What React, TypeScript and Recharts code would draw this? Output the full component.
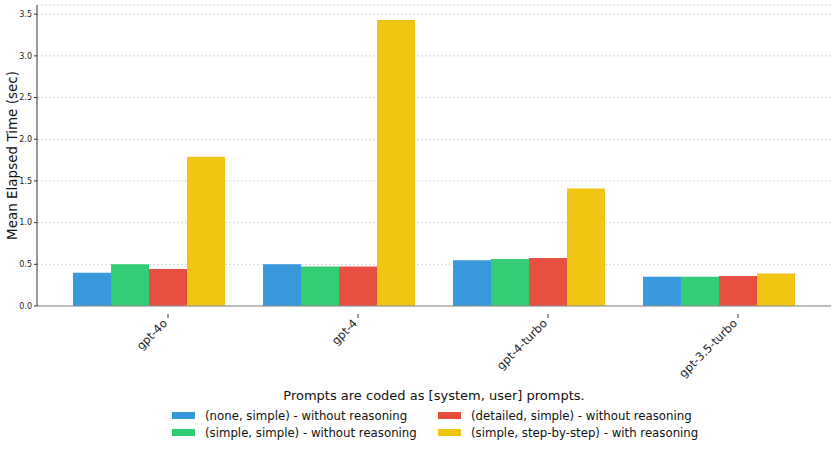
import { BarChart, Bar, XAxis, YAxis, CartesianGrid } from 'recharts';

const models = ['gpt-4o', 'gpt-4', 'gpt-4-turbo', 'gpt-3.5-turbo'];
const noneSimple = [0.4, 0.5, 0.55, 0.35];
const simpleSimple = [0.5, 0.475, 0.565, 0.35];
const detailedSimple = [0.445, 0.475, 0.575, 0.36];
const simpleStep = [1.79, 3.43, 1.41, 0.39];
const yTicks = [0, 0.5, 1, 1.5, 2, 2.5, 3, 3.5];

const series = [
    { key: 'none', label: '(none, simple) - without reasoning', color: '#3498db', values: noneSimple },
    { key: 'simple', label: '(simple, simple) - without reasoning', color: '#2ecc71', values: simpleSimple },
    { key: 'detailed', label: '(detailed, simple) - without reasoning', color: '#e74c3c', values: detailedSimple },
    { key: 'step', label: '(simple, step-by-step) - with reasoning', color: '#f1c40f', values: simpleStep },
];

const data = models.map((m, i) => {
    const row: Record<string, any> = { model: m };
    series.forEach((s) => (row[s.key] = s.values[i]));
    return row;
});

const font = '"DejaVu Sans", sans-serif';

// matplotlib put the ticks at the 3rd bar, not the group centre
function ModelTick(props: any) {
    const { x, y, payload } = props;
    const tx = x + 19;
    return (
        <g>
            <line x1={tx} y1={y} x2={tx} y2={y + 4} stroke="#333" />
            <text
                x={tx}
                y={y + 10}
                textAnchor="end"
                fontSize={11.5}
                fontFamily={font}
                fill="#222"
                transform={`rotate(-45 ${tx} ${y + 10})`}
            >
                {payload.value}
            </text>
        </g>
    );
}

function LegendItem({ label, color }: { label: string; color: string }) {
    return (
        <div style={{ display: 'flex', alignItems: 'center', height: 17, whiteSpace: 'nowrap' }}>
            <span style={{ width: 23, height: 7, background: color, marginRight: 10, flexShrink: 0 }} />
            <span>{label}</span>
        </div>
    );
}

export default function App() {
    return (
        <div style={{ position: 'absolute', left: 0, top: 0, width: 837, height: 450, fontFamily: font }}>
            <BarChart
                width={837}
                height={450}
                data={data}
                margin={{ top: 5, right: 6, left: 0, bottom: 0 }}
                barCategoryGap={19}
                barGap={0}
            >
                <CartesianGrid vertical={false} stroke="#d5d5d5" strokeDasharray="2 2" />
                <XAxis
                    dataKey="model"
                    height={144}
                    interval={0}
                    padding={{ left: 17, right: 17 }}
                    tick={<ModelTick />}
                    tickLine={false}
                    axisLine={{ stroke: '#888' }}
                />
                <XAxis xAxisId="top" orientation="top" dataKey="model" height={0} tick={false} tickLine={false} axisLine={{ stroke: '#555' }} />
                <YAxis
                    width={37}
                    domain={[0, 3.61]}
                    ticks={yTicks}
                    tickFormatter={(v: number) => v.toFixed(1)}
                    tick={{ fontSize: 8, fill: '#222', fontFamily: font }}
                    tickSize={3}
                    tickLine={{ stroke: '#333' }}
                    axisLine={{ stroke: '#333' }}
                    label={{
                        value: 'Mean Elapsed Time (sec)',
                        angle: -90,
                        position: 'insideLeft',
                        offset: 12,
                        style: { textAnchor: 'middle', fontSize: 13.5, fill: '#111', fontFamily: font },
                    }}
                />
                <YAxis yAxisId="right" orientation="right" width={0} tick={false} tickLine={false} axisLine={{ stroke: '#555' }} />
                {series.map((s) => (
                    <Bar key={s.key} dataKey={s.key} fill={s.color} fillOpacity={0.98} isAnimationActive={false} />
                ))}
            </BarChart>
            <div
                style={{
                    position: 'absolute',
                    top: 388,
                    left: 0,
                    width: 868,
                    textAlign: 'center',
                    fontSize: 13,
                    color: '#111',
                }}
            >
                Prompts are coded as [system, user] prompts.
            </div>
            <div
                style={{
                    position: 'absolute',
                    top: 407,
                    left: 172,
                    display: 'grid',
                    gridTemplateColumns: '266px 280px',
                    fontSize: 11.75,
                    color: '#111',
                }}
            >
                <LegendItem label={series[0].label} color={series[0].color} />
                <LegendItem label={series[2].label} color={series[2].color} />
                <LegendItem label={series[1].label} color={series[1].color} />
                <LegendItem label={series[3].label} color={series[3].color} />
            </div>
        </div>
    );
}
